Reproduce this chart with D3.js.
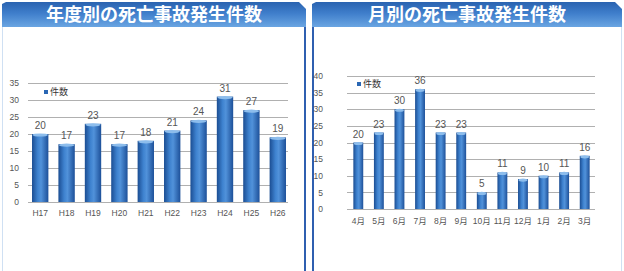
<!DOCTYPE html>
<html>
<head>
<meta charset="utf-8">
<script src="https://cdn.jsdelivr.net/npm/d3@7"></script>
<style>
  body { margin: 0; background: #fff; }
  svg { display: block; }
  text { font-family: "Liberation Sans", "Noto Sans CJK JP", sans-serif; }
  .jp { font-family: "Noto Sans CJK JP", sans-serif; }
</style>
</head>
<body>
<div class="svg-container"></div>
<script>
// data
const yearLabels = ['H17', 'H18', 'H19', 'H20', 'H21', 'H22', 'H23', 'H24', 'H25', 'H26'];
const yearCounts = [20, 17, 23, 17, 18, 21, 24, 31, 27, 19];
const yearTicks = [0, 5, 10, 15, 20, 25, 30, 35];

const monthLabels = ['4月', '5月', '6月', '7月', '8月', '9月', '10月', '11月', '12月', '1月', '2月', '3月'];
const monthCounts = [20, 23, 30, 36, 23, 23, 5, 11, 9, 10, 11, 16];
const monthTicks = [0, 5, 10, 15, 20, 25, 30, 35, 40];

const width = 624;
const height = 271;

const svg = d3.select('.svg-container')
  .append('svg')
  .attr('width', width)
  .attr('height', height)

const defs = svg.append('defs');

// banner gradient
const bg = defs.append('linearGradient').attr('id', 'banner')
  .attr('x1', 0).attr('y1', 0).attr('x2', 0).attr('y2', 1);
bg.append('stop').attr('offset', '0%').attr('stop-color', '#2a63b0');
bg.append('stop').attr('offset', '45%').attr('stop-color', '#3f7ecb');
bg.append('stop').attr('offset', '100%').attr('stop-color', '#6aa5e2');

// bar gradient (cylinder look)
const barG = defs.append('linearGradient').attr('id', 'bar')
  .attr('x1', 0).attr('y1', 0).attr('x2', 1).attr('y2', 0);
barG.append('stop').attr('offset', '0%').attr('stop-color', '#1b4d92');
barG.append('stop').attr('offset', '35%').attr('stop-color', '#3e82cf');
barG.append('stop').attr('offset', '55%').attr('stop-color', '#5192da');
barG.append('stop').attr('offset', '100%').attr('stop-color', '#1d5099');

function drawPanel(opts) {
  const g = svg.append('g');

  // panel borders
  g.append('rect')
    .attr('x', opts.x0 + 0.5).attr('y', 20.5)
    .attr('width', opts.x1 - opts.x0 - 1).attr('height', height)
    .attr('fill', '#fff')
    .attr('stroke', '#cfe0f3')
  g.append('line')
    .attr('x1', opts.darkEdge).attr('x2', opts.darkEdge)
    .attr('y1', 22).attr('y2', height)
    .attr('stroke', '#2f5fb0').attr('stroke-width', 2)

  // title banner with chamfered top right
  const bx0 = opts.x0, bx1 = opts.x1, by0 = 2, by1 = 27;
  g.append('path')
    .attr('d', `M${bx0},${by0 + 2} L${bx0 + 4},${by0} L${bx1 - 7},${by0} L${bx1},${by0 + 7} L${bx1},${by1} L${bx0},${by1} Z`)
    .attr('fill', 'url(#banner)')
  g.append('text')
    .attr('class', 'jp')
    .attr('x', (bx0 + bx1) / 2)
    .attr('y', 21)
    .attr('text-anchor', 'middle')
    .attr('fill', '#fff')
    .attr('font-size', 18)
    .attr('font-weight', 'bold')
    .text(opts.title)

  // scales
  const xScale = d3.scaleBand()
    .domain(opts.labels)
    .range([opts.left, opts.right])
    .paddingInner(opts.pad)
    .paddingOuter(opts.pad / 2)

  const yScale = d3.scaleLinear()
    .domain([0, opts.max])
    .range([opts.bottom, opts.top])

  // gridlines
  g.append('g')
    .selectAll('line')
    .data(opts.ticks)
    .join('line')
    .attr('x1', opts.gridLeft).attr('x2', opts.gridRight)
    .attr('y1', (d) => Math.round(yScale(d)) + 0.5)
    .attr('y2', (d) => Math.round(yScale(d)) + 0.5)
    .attr('stroke', '#b0b0b0')
    .attr('stroke-width', 1)

  // y axis
  const yAxis = d3.axisLeft(yScale).tickValues(opts.ticks).tickSize(0).tickPadding(0);
  const ya = g.append('g')
    .attr('transform', `translate(${opts.yLabelX}, 0)`)
    .call(yAxis)
  ya.select('.domain').remove();
  ya.selectAll('text').attr('font-size', 8.5).attr('fill', '#555')
    .attr('font-family', '"Liberation Sans", sans-serif');

  // x axis
  const xAxis = d3.axisBottom(xScale).tickSize(0).tickPadding(0);
  const xa = g.append('g')
    .attr('transform', `translate(0, ${opts.xLabelY})`)
    .call(xAxis)
  xa.select('.domain').remove();
  xa.selectAll('text').attr('font-size', 8.5).attr('fill', '#555')
    .attr('font-family', '"Liberation Sans", "Noto Sans CJK JP", sans-serif');

  const rows = opts.labels.map((l, i) => ({ label: l, value: opts.values[i] }));

  // bars
  const bw = xScale.bandwidth();
  g.append('g')
    .selectAll('rect')
    .data(rows)
    .join('rect')
    .attr('x', (d) => xScale(d.label))
    .attr('y', (d) => yScale(d.value))
    .attr('width', bw)
    .attr('height', (d) => opts.bottom - yScale(d.value))
    .attr('fill', 'url(#bar)')

  // light caps on top of the bars
  g.append('g')
    .selectAll('ellipse')
    .data(rows)
    .join('ellipse')
    .attr('cx', (d) => xScale(d.label) + bw / 2)
    .attr('cy', (d) => yScale(d.value) + 1)
    .attr('rx', bw / 2 - 0.5)
    .attr('ry', 1.6)
    .attr('fill', '#8dbdec')

  // value labels
  g.append('g')
    .selectAll('text')
    .data(rows)
    .join('text')
    .attr('x', (d) => xScale(d.label) + bw / 2)
    .attr('y', (d) => yScale(d.value) - 5)
    .attr('text-anchor', 'middle')
    .attr('font-size', 10)
    .attr('fill', '#555')
    .text((d) => d.value)

  // legend
  g.append('rect')
    .attr('x', opts.legendX).attr('y', opts.legendY - 5)
    .attr('width', 4).attr('height', 4)
    .attr('fill', '#2a67b4')
  g.append('text')
    .attr('class', 'jp')
    .attr('x', opts.legendX + 6)
    .attr('y', opts.legendY)
    .attr('font-size', 9)
    .attr('fill', '#333')
    .text('件数')
}

drawPanel({
  title: '年度別の死亡事故発生件数',
  x0: 2, x1: 306, darkEdge: 305,
  labels: yearLabels, values: yearCounts, ticks: yearTicks, max: 35,
  left: 27, right: 291, pad: 0.38,
  top: 83, bottom: 202,
  gridLeft: 28, gridRight: 288,
  yLabelX: 19, xLabelY: 210,
  legendX: 44, legendY: 95
});

drawPanel({
  title: '月別の死亡事故発生件数',
  x0: 312, x1: 622, darkEdge: 313,
  labels: monthLabels, values: monthCounts, ticks: monthTicks, max: 40,
  left: 348, right: 595, pad: 0.52,
  top: 76, bottom: 209,
  gridLeft: 347, gridRight: 595,
  yLabelX: 323, xLabelY: 218,
  legendX: 357, legendY: 87
});
</script>
</body>
</html>
